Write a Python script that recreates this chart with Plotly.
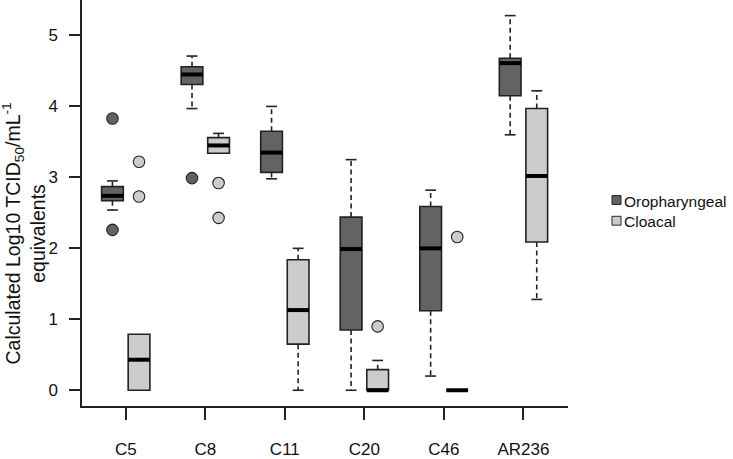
import numpy as np
import plotly.graph_objects as go

# ---------------- data ----------------
cats = ["C5", "C8", "C11", "C20", "C46", "AR236"]
y_ticks = [0, 1, 2, 3, 4, 5]

oro_q1 = [2.67, 4.31, 3.07, 0.85, 1.12, 4.15]
oro_med = [2.74, 4.45, 3.35, 1.99, 2.00, 4.61]
oro_q3 = [2.87, 4.56, 3.65, 2.44, 2.59, 4.68]
oro_lo = [2.54, 3.97, 2.98, 0.00, 0.20, 3.60]
oro_hi = [2.95, 4.71, 4.00, 3.25, 2.82, 5.28]
oro_out_cat = ["C5", "C5", "C8"]
oro_out_val = [3.83, 2.26, 2.99]

clo_q1 = [0.00, 3.34, 0.65, 0.00, 0.00, 2.09]
clo_med = [0.43, 3.45, 1.13, 0.00, 0.00, 3.02]
clo_q3 = [0.79, 3.56, 1.84, 0.29, 0.00, 3.97]
clo_lo = [0.00, 3.34, 0.00, 0.00, 0.00, 1.28]
clo_hi = [0.79, 3.62, 2.00, 0.42, 0.00, 4.22]
clo_out_cat = ["C5", "C5", "C8", "C8", "C20", "C46"]
clo_out_val = [3.22, 2.73, 2.92, 2.43, 0.90, 2.16]

# ---------------- styling ----------------
DARK = "#636363"
LIGHT = "#cccccc"
EDGE = "#222222"
FONT = "Liberation Sans, Arial, sans-serif"
OFFSET = 0.167
BOXW = 0.273
CAPW = BOXW * 0.5

L, R, T, B = 82, 165, 0, 47
W, H = 733, 459
PW, PH = W - L - R, H - T - B

fig = go.Figure()


def add_group(offset, q1, med, q3, lo, hi, out_cat, out_val, fill):
    xs = np.arange(len(cats)) + offset
    # whiskers (dashed) and caps
    wx, wy, cx, cy = [], [], [], []
    for x, a, b, l, h in zip(xs, q1, q3, lo, hi):
        if h > b:
            wx += [x, x, None]
            wy += [b, h, None]
            cx += [x - CAPW / 2, x + CAPW / 2, None]
            cy += [h, h, None]
        if l < a:
            wx += [x, x, None]
            wy += [a, l, None]
            cx += [x - CAPW / 2, x + CAPW / 2, None]
            cy += [l, l, None]
    fig.add_trace(go.Scatter(x=wx, y=wy, mode="lines", showlegend=False, hoverinfo="skip",
                             line=dict(color=EDGE, width=1.6, dash="5px,3.5px")))
    fig.add_trace(go.Scatter(x=cx, y=cy, mode="lines", showlegend=False, hoverinfo="skip",
                             line=dict(color=EDGE, width=1.6)))
    # boxes
    fig.add_trace(go.Box(x=xs, q1=q1, median=med, q3=q3, lowerfence=q1, upperfence=q3,
                         width=BOXW, whiskerwidth=0, fillcolor=fill,
                         line=dict(color=EDGE, width=1.6), boxpoints=False, showlegend=False))
    # thick medians
    mx, my = [], []
    for x, m in zip(xs, med):
        mx += [x - BOXW / 2, x + BOXW / 2, None]
        my += [m, m, None]
    fig.add_trace(go.Scatter(x=mx, y=my, mode="lines", showlegend=False, hoverinfo="skip",
                             line=dict(color="black", width=4)))
    # outliers
    ox = [cats.index(c) + offset for c in out_cat]
    fig.add_trace(go.Scatter(x=ox, y=out_val, mode="markers", showlegend=False,
                             marker=dict(size=11.5, color=fill, line=dict(color=EDGE, width=1.1))))


add_group(-OFFSET, oro_q1, oro_med, oro_q3, oro_lo, oro_hi, oro_out_cat, oro_out_val, DARK)
add_group(OFFSET, clo_q1, clo_med, clo_q3, clo_lo, clo_hi, clo_out_cat, clo_out_val, LIGHT)


def px_x(p):
    return (p - L) / PW


def px_y(p):
    return (H - B - p) / PH


# custom legend
legend_items = [("Oropharyngeal", DARK, 203), ("Cloacal", LIGHT, 224)]
for name, col, yc in legend_items:
    fig.add_shape(type="rect", xref="paper", yref="paper",
                  x0=px_x(612), x1=px_x(621), y0=px_y(yc + 4.5), y1=px_y(yc - 4.5),
                  fillcolor=col, line=dict(color=EDGE, width=1))
    fig.add_annotation(xref="paper", yref="paper", x=px_x(622), y=px_y(yc + 1),
                       xanchor="left", yanchor="middle", showarrow=False, text=name,
                       font=dict(family=FONT, size=15.5, color="#111"))

# y-axis title
fig.add_annotation(xref="paper", yref="paper", x=px_x(24), y=px_y(237),
                   xanchor="center", yanchor="middle", showarrow=False, textangle=-90,
                   text="Calculated Log10 TCID<sub>50</sub>/mL<sup>-1</sup><br>equivalents",
                   font=dict(family=FONT, size=19.5, color="#111"))

fig.update_layout(
    width=W, height=H,
    margin=dict(l=L, r=R, t=T, b=B, pad=0),
    paper_bgcolor="white", plot_bgcolor="white",
    showlegend=False,
    boxmode="overlay",
    font=dict(family=FONT, size=17, color="#111"),
)
fig.update_xaxes(range=[-0.55, 5.56], tickmode="array", tickvals=list(range(len(cats))),
                 ticktext=cats, showgrid=False, zeroline=False, showline=True,
                 linecolor=EDGE, linewidth=1.5, ticks="outside", ticklen=12, tickwidth=1.5,
                 tickcolor=EDGE, ticklabelstandoff=15, tickfont=dict(size=17))
fig.update_yaxes(range=[-0.222, 5.5], tickmode="array", tickvals=y_ticks,
                 showgrid=False, zeroline=False, showline=True,
                 linecolor=EDGE, linewidth=1.5, ticks="outside", ticklen=11, tickwidth=1.5,
                 tickcolor=EDGE, ticklabelstandoff=8, tickfont=dict(size=17))

fig.write_html("out.html", config={"displayModeBar": False},
               post_script="document.body.style.margin='0';document.body.style.overflow='hidden';")
